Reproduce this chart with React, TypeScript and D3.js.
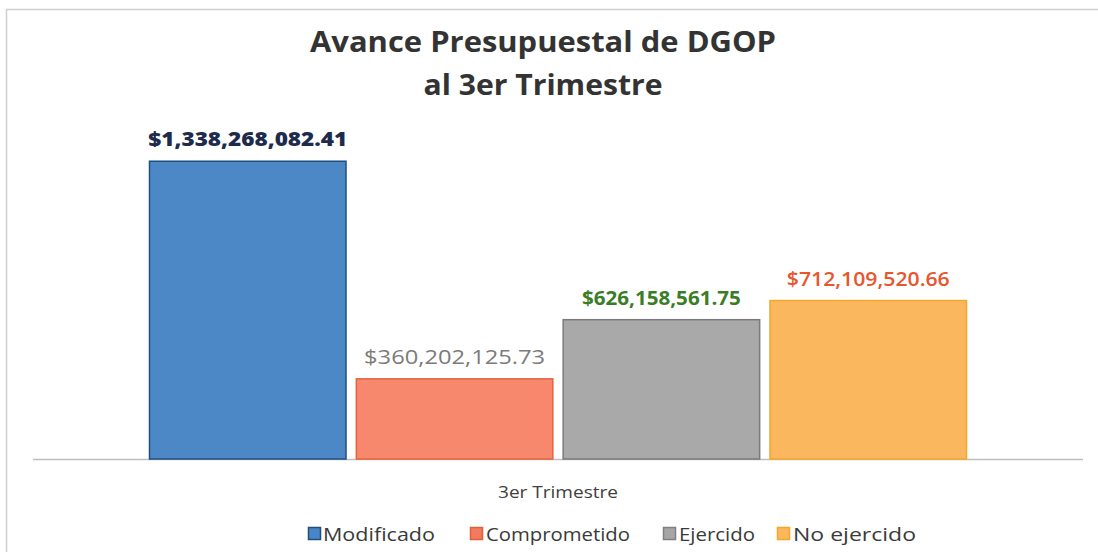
import React from "react";
import * as d3 from "d3";

const categories = ["3er Trimestre"];
const seriesNames = ["Modificado", "Comprometido", "Ejercido", "No ejercido"];
const seriesValues = [1338268082.41, 360202125.73, 626158561.75, 712109520.66];
const valueLabels = ["$1,338,268,082.41", "$360,202,125.73", "$626,158,561.75", "$712,109,520.66"];
const titleLines = ["Avance Presupuestal de DGOP", "al 3er Trimestre"];

const fills = ["#4c87c6", "#f7876d", "#a9a9a9", "#fbb75e"];
const strokes = ["#1f4f80", "#e8603c", "#7a7a7a", "#f4a62a"];
const labelColors = ["#1d2b4c", "#7b7b7b", "#3b7d27", "#e8562d"];
const labelWeights = [800, 500, 700, 600];
const legendFills = ["#4a86c5", "#f27a5e", "#a6a6a6", "#fbb75e"];
const legendStrokes = ["#1f4f80", "#e0603a", "#808080", "#f4a62a"];

const W = 1098;
const H = 552;
const plotLeft = 33;
const plotRight = 1083;
const baseY = 459;
const topY = 103;

export default function App() {
  const x0 = d3.scaleBand<string>().domain(categories).range([plotLeft, plotRight]).paddingInner(0).paddingOuter(0.1426);
  const x1 = d3.scaleBand<string>().domain(seriesNames).range([0, x0.bandwidth()]).paddingInner(0.05).paddingOuter(0);
  const y = d3.scaleLinear().domain([0, 1.6e9]).range([baseY, topY]);

  const labelWidths = [199, 181, 159, 163];
  const legendItems = [
    { sq: 308, tx: 323, tw: 112 },
    { sq: 470, tx: 486, tw: 144 },
    { sq: 663, tx: 679, tw: 76 },
    { sq: 777, tx: 793, tw: 123 },
  ];

  return (
    <svg width={W} height={H} style={{ position: "absolute", left: 0, top: 0, background: "#fff" }}>
      <rect x={0} y={0} width={W} height={H} fill="#ffffff" />
      <rect x={6.5} y={9.5} width={W + 10} height={H + 10} fill="none" stroke="#cfcfcf" strokeWidth={1.5} />
      <g fontFamily="'Open Sans', sans-serif" fill="#333333" fontWeight={700} textAnchor="middle">
        <text x={543} y={52} fontSize={29} textLength={466} lengthAdjust="spacingAndGlyphs">{titleLines[0]}</text>
        <text x={543} y={95} fontSize={29} textLength={239} lengthAdjust="spacingAndGlyphs">{titleLines[1]}</text>
      </g>
      <line x1={plotLeft} x2={plotRight} y1={baseY + 0.5} y2={baseY + 0.5} stroke="#bfbfbf" strokeWidth={1.5} />
      {categories.map((c) => (
        <g key={c}>
          {seriesNames.map((s, i) => {
            const bx = (x0(c) as number) + (x1(s) as number);
            const by = y(seriesValues[i]);
            return (
              <g key={s}>
                <rect x={bx} y={by} width={x1.bandwidth()} height={baseY - by} fill={fills[i]} stroke={strokes[i]} strokeWidth={1.5} />
                <text
                  x={bx + x1.bandwidth() / 2}
                  y={by - 15}
                  textAnchor="middle"
                  fontFamily="'Open Sans', sans-serif"
                  fontSize={20}
                  fontWeight={labelWeights[i]}
                  fill={labelColors[i]}
                  textLength={labelWidths[i]}
                  lengthAdjust="spacingAndGlyphs"
                >
                  {valueLabels[i]}
                </text>
              </g>
            );
          })}
          <text x={(x0(c) as number) + x0.bandwidth() / 2} y={498} textAnchor="middle" fontFamily="'Open Sans', sans-serif" fontSize={17} fill="#404040" textLength={120} lengthAdjust="spacingAndGlyphs">
            {c}
          </text>
        </g>
      ))}
      <g fontFamily="'Open Sans', sans-serif" fontSize={19} fill="#3a3a3a">
        {seriesNames.map((s, i) => (
          <g key={s}>
            <rect x={legendItems[i].sq + 0.5} y={527.5} width={12} height={12} fill={legendFills[i]} stroke={legendStrokes[i]} strokeWidth={1.5} />
            <text x={legendItems[i].tx} y={541} textLength={legendItems[i].tw} lengthAdjust="spacingAndGlyphs">{s}</text>
          </g>
        ))}
      </g>
    </svg>
  );
}
